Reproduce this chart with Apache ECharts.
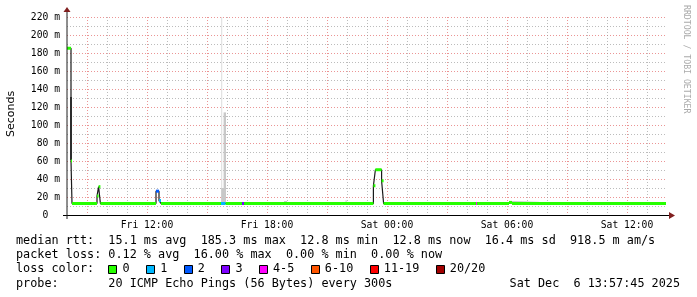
<!DOCTYPE html>
<html><head><meta charset="utf-8">
<script src="https://cdn.jsdelivr.net/npm/echarts@6/dist/echarts.min.js"></script>
<style>html,body{margin:0;padding:0;background:#fff}#c{width:697px;height:297px}</style>
</head><body><div id="c"></div>
<script>
// ---- data (x = hours since Fri 00:00, y = milliseconds) ----
const xStart = 8.0;
const xEnd = 37.95;
const xTickHours = [12, 18, 24, 30, 36];
const xTickLabels = ['Fri 12:00', 'Fri 18:00', 'Sat 00:00', 'Sat 06:00', 'Sat 12:00'];
const majorGridHours = [9, 12, 15, 18, 21, 24, 27, 30, 33, 36];
const minorGridHours = [10, 11, 13, 14, 16, 17, 19, 20, 22, 23, 25, 26, 28, 29, 31, 32, 34, 35, 37];
const yMax = 220;
const yStep = 20;

// median rtt segments: [startHour, endHour, median ms, loss class]
const medianSegments = [
  [8.00, 8.20, 185.3, 0],
  [8.20, 8.25, 60.0, 0],
  [8.25, 9.50, 12.8, 0],
  [9.50, 9.58, 21.0, 0],
  [9.58, 9.67, 31.5, 0],
  [9.67, 12.45, 12.8, 0],
  [12.45, 12.60, 26.5, 2],
  [12.60, 12.70, 16.0, 1],
  [12.70, 15.70, 12.8, 0],
  [15.70, 15.93, 12.8, 1],
  [15.93, 16.75, 12.8, 0],
  [16.75, 16.85, 12.8, 3],
  [16.85, 23.32, 12.8, 0],
  [23.32, 23.42, 32.5, 0],
  [23.42, 23.73, 50.3, 0],
  [23.73, 23.83, 38.0, 0],
  [23.83, 28.45, 12.8, 0],
  [28.45, 28.50, 12.8, 4],
  [28.50, 30.10, 12.8, 0],
  [30.10, 30.25, 14.0, 0],
  [30.25, 37.95, 12.8, 0]
];

// smoke (ping spread): [startHour, endHour, low ms, high ms, density level]
const smokeBands = [
  [8.15, 8.25, 61, 131, 2],
  [12.70, 12.85, 12.8, 14.3, 1],
  [15.71, 15.76, 12.8, 220, 0],
  [15.71, 15.95, 12.8, 30, 1],
  [15.83, 15.95, 30, 114, 1],
  [18.85, 19.00, 12.8, 15.5, 1],
  [21.93, 21.98, 12.8, 16.5, 1]
];

const lossLabels = ['0', '1', '2', '3', '4-5', '6-10', '11-19', '20/20'];
const rttStats = ['15.1 ms avg', '185.3 ms max', '12.8 ms min', '12.8 ms now', '16.4 ms sd', '918.5 m am/s'];
const lossStats = ['0.12 % avg', '16.00 % max', '0.00 % min', '0.00 % now'];
const probeText = '20 ICMP Echo Pings (56 Bytes) every 300s';
const stampText = 'Sat Dec  6 13:57:45 2025';

// ---- styles ----
const lossColors = ['#26ff00', '#00b8ff', '#0059ff', '#7e00ff', '#ff00ff', '#ff5500', '#ff0000', '#a10000'];
const smokeColors = ['#dcdcdc', '#c8c8c8', '#4a4a4a'];
const MONO = '"DejaVu Sans Mono"';
const majorColor = 'rgba(222,79,79,0.6)';
const minorColor = 'rgba(143,143,143,0.6)';
const dash = [1, 2];
const majorGridStyle = {color: majorColor, width: 1, type: dash};
const minorGridStyle = {color: minorColor, width: 1, type: dash};

const lineData = [];
medianSegments.forEach(s => { lineData.push([s[0], s[2]]); lineData.push([s[1], s[2]]); });
const vGrid = minorGridHours.map(h => [h, 0]).concat(majorGridHours.map(h => [h, 1]));

const chart = echarts.init(document.getElementById('c'), null, {renderer: 'canvas'});
chart.setOption({
  animation: false,
  backgroundColor: '#ffffff',
  grid: {left: 67, right: 31, top: 17, bottom: 82, containLabel: false},
  xAxis: {
    type: 'value', min: xStart, max: xEnd,
    axisLine: {show: false},
    axisTick: {show: false},
    splitLine: {show: false},
    axisLabel: {
      customValues: xTickHours, margin: 5,
      fontFamily: MONO, fontSize: 9.7, color: '#000',
      formatter: v => xTickLabels[xTickHours.indexOf(Math.round(v))] || ''
    }
  },
  yAxis: {
    type: 'value', min: 0, max: yMax, interval: yStep,
    axisLine: {show: false},
    axisTick: {show: false},
    minorTick: {show: false, splitNumber: 2},
    splitLine: {show: true, lineStyle: majorGridStyle},
    minorSplitLine: {show: true, lineStyle: minorGridStyle},
    axisLabel: {
      margin: 7, fontFamily: MONO, fontSize: 9.7, color: '#000',
      formatter: v => v === 0 ? '0  ' : v + ' m'
    }
  },
  series: [{
    type: 'custom', name: 'vgrid', z: 1, silent: true,
    encode: {x: 0, y: 1},
    data: vGrid,
    renderItem: (params, api) => {
      const p = api.coord([api.value(0), 0]);
      const cs = params.coordSys;
      const x = Math.round(p[0]) + 0.5;
      return {type: 'line', shape: {x1: x, y1: cs.y, x2: x, y2: cs.y + cs.height},
        style: {stroke: api.value(1) ? majorColor : minorColor, lineWidth: 1, lineDash: dash}};
    }
  }, {
    type: 'custom', name: 'smoke', clip: true, z: 2,
    encode: {x: [0, 1], y: [2, 3]},
    data: smokeBands,
    renderItem: (params, api) => {
      const a = api.coord([api.value(0), api.value(3)]);
      const b = api.coord([api.value(1), api.value(2)]);
      return {type: 'rect', shape: {x: a[0], y: a[1], width: b[0] - a[0], height: b[1] - a[1]},
        style: {fill: smokeColors[api.value(4)]}};
    }
  }, {
    type: 'line', name: 'median', data: lineData, symbol: 'none', z: 3,
    lineStyle: {color: '#1a1a1a', width: 1.2}, clip: true
  }, {
    type: 'custom', name: 'loss', clip: true, z: 4,
    encode: {x: [0, 1], y: 2},
    data: medianSegments,
    renderItem: (params, api) => {
      const a = api.coord([api.value(0), api.value(2)]);
      const b = api.coord([api.value(1), api.value(2)]);
      return {type: 'rect', shape: {x: a[0], y: a[1] - 1.5, width: b[0] - a[0], height: 3},
        style: {fill: lossColors[api.value(3)]}};
    }
  }]
});

// ---- axes, arrows and legend text ----
const o = chart.convertToPixel({gridIndex: 0}, [xStart, 0]);
const tr = chart.convertToPixel({gridIndex: 0}, [xEnd, yMax]);
const x0 = Math.round(o[0]), y0 = Math.round(o[1]), x1 = Math.round(tr[0]), yt = Math.round(tr[1]);
const arrowColor = '#801f1f';
const cw = 7.1;
const lx = 16;
const rows = [241, 255.2, 269.4, 283.6];
const fontL = '11.8px ' + MONO;
const g = [];
g.push({type: 'line', shape: {x1: x0 - 4, y1: y0 + 0.5, x2: x1 + 3, y2: y0 + 0.5}, style: {stroke: '#000', lineWidth: 1}, z: 10});
g.push({type: 'line', shape: {x1: x0, y1: y0 + 4, x2: x0, y2: yt - 6}, style: {stroke: '#1f1f1f', lineWidth: 1}, z: 10});
g.push({type: 'polygon', shape: {points: [[x0 - 3.5, yt - 5], [x0 + 3.5, yt - 5], [x0, yt - 10]]}, style: {fill: arrowColor}, z: 11});
g.push({type: 'polygon', shape: {points: [[x1 + 3, y0 + 0.5 - 3.5], [x1 + 3, y0 + 0.5 + 3.5], [x1 + 9, y0 + 0.5]]}, style: {fill: arrowColor}, z: 11});
g.push({type: 'text', x: 11, y: 114, rotation: Math.PI / 2,
  style: {text: 'Seconds', font: '11px "DejaVu Sans"', fill: '#000', align: 'center', verticalAlign: 'middle'}});
g.push({type: 'text', x: 686, y: 5, rotation: -Math.PI / 2,
  style: {text: 'RRDTOOL / TOBI OETIKER', font: '8.2px ' + MONO, fill: '#aaaaaa', align: 'left', verticalAlign: 'middle'}});
const t = (text, x, y, align) => g.push({type: 'text', x: x, y: y,
  style: {text: text, font: fontL, fill: '#000', align: align || 'left', verticalAlign: 'middle'}});
t('median rtt:  ' + rttStats.join('  '), lx, rows[0]);
t('packet loss: ' + lossStats.join('  '), lx, rows[1]);
t('loss color:', lx, rows[2]);
let col = 13;
lossLabels.forEach((lab, i) => {
  const bx = lx + col * cw;
  g.push({type: 'rect', shape: {x: Math.round(bx) + 0.5, y: Math.round(rows[2] - 4.5) + 0.5, width: 8, height: 8},
    style: {fill: lossColors[i], stroke: '#000', lineWidth: 1}, z: 10});
  t(lab, bx + 2 * cw, rows[2]);
  col += 4.3 + lab.length;
});
t('probe:       ' + probeText, lx, rows[3]);
t(stampText, 680, rows[3], 'right');
chart.setOption({graphic: g});
</script></body></html>
